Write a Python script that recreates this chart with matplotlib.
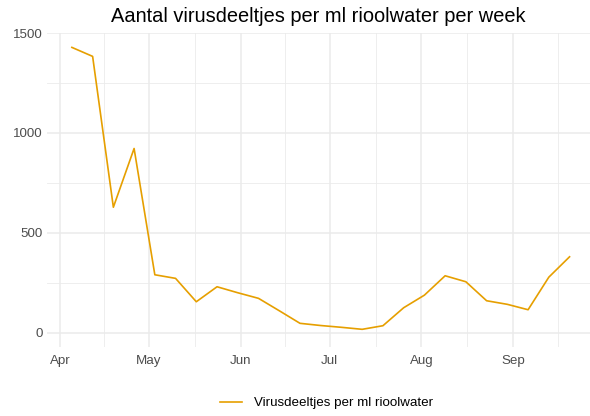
import matplotlib
matplotlib.use("Agg")
import matplotlib.pyplot as plt
import numpy as np
import pandas as pd

plt.rcParams['font.family'] = ['Liberation Sans', 'DejaVu Sans']

dates = ["2020-04-05", "2020-04-12", "2020-04-19", "2020-04-26", "2020-05-03",
         "2020-05-10", "2020-05-17", "2020-05-24", "2020-05-31", "2020-06-07",
         "2020-06-14", "2020-06-21", "2020-06-28", "2020-07-05", "2020-07-12",
         "2020-07-19", "2020-07-26", "2020-08-02", "2020-08-09", "2020-08-16",
         "2020-08-23", "2020-08-30", "2020-09-06", "2020-09-13", "2020-09-20"]
values = [1428, 1383, 628, 922, 290,
          272, 155, 230, 200, 172,
          110, 47, 36, 27, 17,
          35, 125, 188, 285, 255,
          160, 142, 115, 278, 380]
series_label = "Virusdeeltjes per ml rioolwater"
title = "Aantal virusdeeltjes per ml rioolwater per week"
y_ticks = [0, 500, 1000, 1500]
month_ticks = ["2020-04-01", "2020-05-01", "2020-06-01", "2020-07-01", "2020-08-01", "2020-09-01"]
month_labels = ["Apr", "May", "Jun", "Jul", "Aug", "Sep"]

x = pd.to_datetime(dates)
W, H = 590, 416
fig = plt.figure(figsize=(W / 100, H / 100), dpi=100)
ax = fig.add_axes([47 / W, 1 - 346.7 / H, (590 - 47) / W, (346.7 - 33) / H])

ax.plot(x, values, color="#E69F00", lw=1.2, label=series_label, zorder=3)

mt = pd.to_datetime(month_ticks)
ax.set_xticks(mt)
ax.set_xticklabels(month_labels)
minor_x = [mt[i] + (mt[i + 1] - mt[i]) / 2 for i in range(len(mt) - 1)]
minor_x.append(mt[-1] + pd.Timedelta(days=15))
ax.set_xticks(minor_x, minor=True)
ax.set_yticks(y_ticks)
ax.set_yticks([250, 750, 1250], minor=True)

x0 = pd.Timestamp("2020-04-01")
ax.set_xlim(x0 - pd.Timedelta(days=4.4), x0 + pd.Timedelta(days=178.9))
ax.set_ylim(-70, 1500)

ax.grid(which="major", color="#EBEBEB", lw=1.1)
ax.grid(which="minor", color="#EBEBEB", lw=0.6)
ax.set_axisbelow(True)
for s in ax.spines.values():
    s.set_visible(False)
ax.tick_params(which="both", length=0)
ax.tick_params(axis="both", labelsize=9.6, labelcolor="#4D4D4D")
ax.tick_params(axis="x", pad=6)
ax.tick_params(axis="y", pad=3)

fig.text(0.5 * (47 + 590) / W, 1 - 16 / H, title, ha="center", va="center", fontsize=14.4, color="black")

leg = fig.legend(loc="center", bbox_to_anchor=(326.5 / W, 1 - 403 / H), frameon=False,
                 fontsize=9.6, handlelength=1.6, handletextpad=0.9)

fig.savefig("out.png", dpi=100)
